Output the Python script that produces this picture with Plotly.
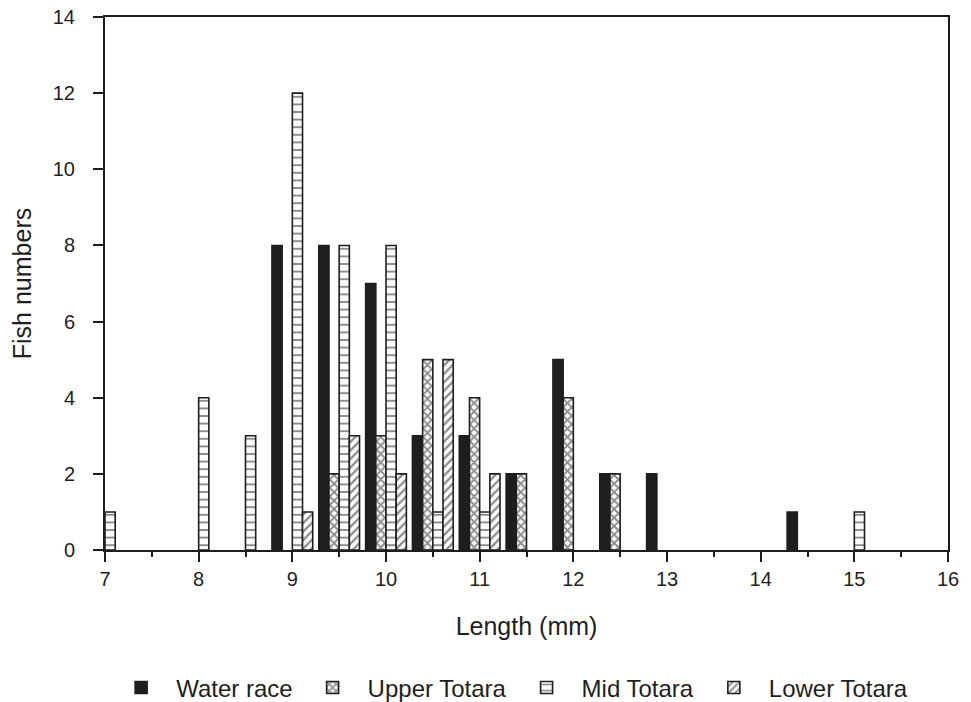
import plotly.graph_objects as go

# Length classes (mm) and fish counts per site
water_len = [9, 9.5, 10, 10.5, 11, 11.5, 12, 12.5, 13, 14.5]
water_n = [8, 8, 7, 3, 3, 2, 5, 2, 2, 1]

upper_len = [9.5, 10, 10.5, 11, 11.5, 12, 12.5]
upper_n = [2, 3, 5, 4, 2, 4, 2]

mid_len = [7, 8, 8.5, 9, 9.5, 10, 10.5, 11, 15]
mid_n = [1, 4, 3, 12, 8, 8, 1, 1, 1]

lower_len = [9, 9.5, 10, 10.5, 11]
lower_n = [1, 3, 2, 5, 2]

FONT = "Liberation Sans, Arial, sans-serif"
INK = "#1e1e1e"

outline = dict(color=INK, width=1.6)

fig = go.Figure()
fig.add_trace(go.Bar(
    x=water_len, y=water_n, name="Water race",
    marker=dict(color=INK, line=outline),
))
fig.add_trace(go.Bar(
    x=upper_len, y=upper_n, name="Upper Totara",
    marker=dict(color="white", line=outline,
                pattern=dict(shape="x", fgcolor=INK, bgcolor="white",
                             size=6, solidity=0.55)),
))
fig.add_trace(go.Bar(
    x=mid_len, y=mid_n, name="Mid Totara",
    marker=dict(color="white", line=outline,
                pattern=dict(shape="-", fgcolor=INK, bgcolor="white",
                             size=7.6, solidity=0.26)),
))
fig.add_trace(go.Bar(
    x=lower_len, y=lower_n, name="Lower Totara",
    marker=dict(color="white", line=outline,
                pattern=dict(shape="/", fgcolor=INK, bgcolor="white",
                             size=6, solidity=0.4)),
))

fig.update_layout(
    width=971, height=702,
    margin=dict(l=105, r=23, t=17, b=152),
    paper_bgcolor="white", plot_bgcolor="white",
    barmode="group", bargap=0.13, bargroupgap=0,
    font=dict(family=FONT, size=20, color=INK),
    showlegend=True,
    legend=dict(orientation="h", x=0.48, xanchor="center",
                yref="container", y=0.02, yanchor="middle",
                font=dict(size=24, family=FONT, color=INK),
                itemwidth=60, traceorder="normal"),
)

fig.update_xaxes(
    range=[7, 16], dtick=1, tick0=7,
    showgrid=False, zeroline=False,
    showline=True, linecolor=INK, linewidth=2, mirror=True,
    ticks="outside", ticklen=10, tickwidth=1.6, tickcolor=INK,
    minor=dict(dtick=0.5, ticks="outside", ticklen=5, tickwidth=1.6,
               tickcolor=INK, showgrid=False),
    tickfont=dict(size=20),
    automargin="bottom",
    title=dict(text="Length (mm)", font=dict(size=25), standoff=28),
)
fig.update_yaxes(
    range=[0, 14], dtick=2,
    showgrid=False, zeroline=False,
    showline=True, linecolor=INK, linewidth=2, mirror=True,
    ticks="outside", ticklen=10, tickwidth=1.6, tickcolor=INK,
    ticklabelstandoff=14,
    tickfont=dict(size=20),
    automargin="left",
    title=dict(text="Fish numbers", font=dict(size=25), standoff=14),
)

fig.write_html("out.html")
